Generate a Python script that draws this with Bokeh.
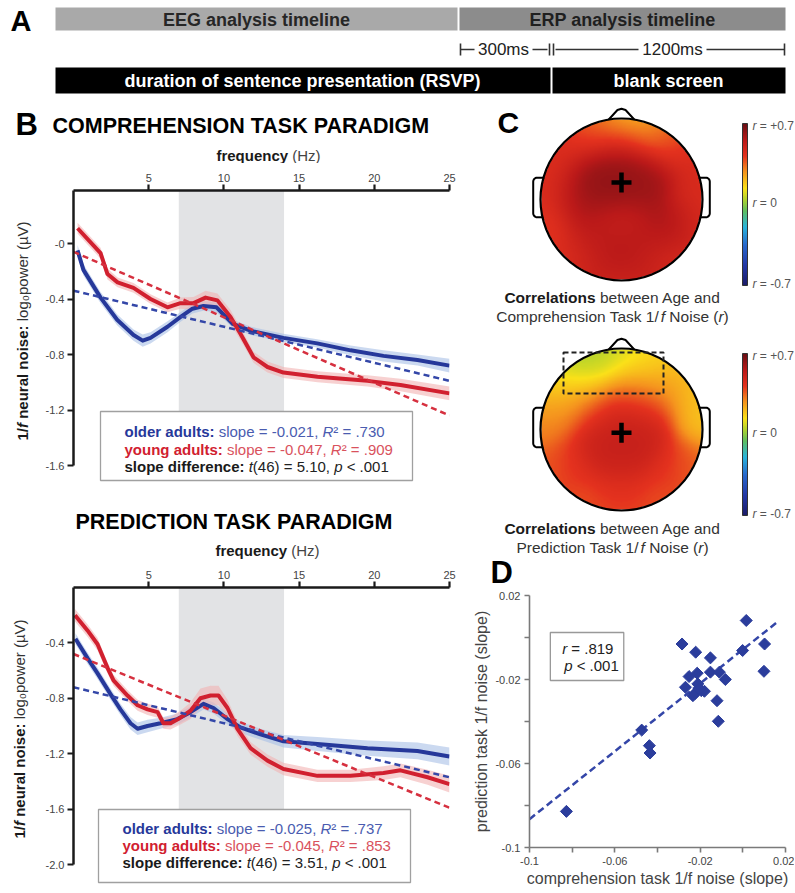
import numpy as np
from bokeh.plotting import figure
from bokeh.models import Range1d, Label, FixedTicker, LinearColorMapper
from bokeh.layouts import column, row
from bokeh.embed import file_html
from bokeh.resources import INLINE

FONT = "Liberation Sans"

# ------------------------------------------------------------------ data
# Panel A (schematic timeline)
timeline_top = ["EEG analysis timeline", "ERP analysis timeline"]
timeline_bottom = ["duration of sentence presentation (RSVP)", "blank screen"]
interval_labels = ["300ms", "1200ms"]

# Panel B - comprehension task (frequency in Hz, log power)
comp_old_freq = [0.27, 0.66, 1.8, 2.9, 3.99, 4.6, 5.12, 6.25, 7.1, 7.91, 8.64, 9.51, 10.6, 11.8, 13.96, 16.2, 18.42, 20.61, 22.87, 25.0]
comp_old_pow = [-0.05, -0.19, -0.39, -0.55, -0.66, -0.70, -0.68, -0.60, -0.53, -0.47, -0.45, -0.46, -0.58, -0.63, -0.68, -0.72, -0.77, -0.81, -0.84, -0.88]
comp_old_se = [0.04, 0.04, 0.04, 0.04, 0.04, 0.045, 0.04, 0.04, 0.035, 0.035, 0.035, 0.035, 0.03, 0.03, 0.03, 0.03, 0.035, 0.04, 0.04, 0.05]
comp_young_freq = [0.27, 1.8, 2.26, 2.93, 3.99, 5.12, 6.25, 7.11, 7.98, 8.78, 9.57, 10.44, 11.1, 11.97, 12.9, 13.96, 16.22, 19.55, 21.74, 25.0]
comp_young_pow = [0.11, -0.07, -0.22, -0.28, -0.32, -0.40, -0.46, -0.43, -0.43, -0.39, -0.41, -0.53, -0.65, -0.82, -0.89, -0.93, -0.96, -0.99, -1.02, -1.08]
comp_young_se = [0.04, 0.04, 0.04, 0.035, 0.035, 0.035, 0.035, 0.04, 0.045, 0.05, 0.05, 0.05, 0.045, 0.04, 0.04, 0.04, 0.04, 0.04, 0.045, 0.05]
comp_fit_old = [-0.34, -0.026]      # intercept, slope
comp_fit_young = [-0.06, -0.0472]

# Panel B - prediction task
pred_old_freq = [0.13, 0.93, 1.6, 2.46, 3.12, 3.79, 4.26, 4.92, 5.78, 6.91, 7.78, 8.64, 9.31, 10.24, 11.1, 12.43, 13.96, 16.22, 19.55, 22.87, 25.0]
pred_old_pow = [-0.37, -0.51, -0.62, -0.77, -0.88, -0.98, -1.02, -1.0, -0.98, -0.95, -0.9, -0.84, -0.87, -0.95, -1.01, -1.06, -1.11, -1.13, -1.16, -1.18, -1.22]
pred_old_se = [0.04, 0.04, 0.04, 0.04, 0.04, 0.045, 0.045, 0.045, 0.04, 0.04, 0.04, 0.04, 0.04, 0.04, 0.04, 0.04, 0.045, 0.05, 0.055, 0.06, 0.065]
pred_young_freq = [0.1, 0.93, 1.6, 2.26, 2.66, 3.59, 4.26, 4.92, 5.59, 5.98, 6.45, 7.11, 7.78, 8.44, 9.11, 9.64, 10.24, 10.9, 11.77, 12.9, 13.96, 16.22, 18.42, 20.61, 21.74, 23.54, 25.0]
pred_young_pow = [-0.2, -0.31, -0.41, -0.58, -0.67, -0.78, -0.85, -0.88, -0.9, -0.98, -0.98, -0.94, -0.89, -0.8, -0.78, -0.78, -0.87, -1.02, -1.16, -1.25, -1.31, -1.36, -1.36, -1.34, -1.32, -1.37, -1.42]
pred_young_se = [0.045, 0.045, 0.045, 0.04, 0.04, 0.04, 0.04, 0.04, 0.04, 0.04, 0.045, 0.05, 0.06, 0.07, 0.07, 0.07, 0.06, 0.05, 0.045, 0.045, 0.045, 0.045, 0.045, 0.05, 0.05, 0.055, 0.06]
pred_fit_old = [-0.72, -0.026]
pred_fit_young = [-0.48, -0.0444]

alpha_band = [7.0, 14.0]
freq_ticks = [5, 10, 15, 20, 25]
comp_y_ticks = [0, -0.4, -0.8, -1.2, -1.6]
pred_y_ticks = [-0.4, -0.8, -1.2, -1.6, -2.0]
comp_tick_text = ["-0", "-0.4", "-0.8", "-1.2", "-1.6"]
pred_tick_text = ["-0.4", "-0.8", "-1.2", "-1.6", "-2.0"]

comp_stats = [["older adults:", "-0.021", ".730"], ["young adults:", "-0.047", ".909"], ["5.10", ".001"]]
pred_stats = [["older adults:", "-0.025", ".737"], ["young adults:", "-0.045", ".853"], ["3.51", ".001"]]

# Panel C - correlation (r) at electrode sites, head coordinates (radius 1)
c1_x = [-0.3, 0.0, 0.3, -0.1, 0.25, -0.5, 0.0, -0.35, 0.6, 0.3, 0.0, -0.4, 0.4,
        -0.92, -0.9, 0.92, 0.88, -0.65, 0.6, 0.0, -0.75, 0.75, -0.4, 0.4, 0.0, 0.0, 0.35, -0.35, 0.6]
c1_y = [0.35, 0.4, 0.35, 0.15, 0.12, 0.0, -0.3, -0.4, -0.35, -0.5, -0.72, -0.75, -0.8,
        0.15, -0.3, 0.1, -0.35, -0.72, -0.75, -0.97, 0.6, 0.6, 0.8, 0.8, 0.75, 0.99, 0.93, 0.93, 0.78]
c1_r = [0.63, 0.64, 0.62, 0.63, 0.6, 0.6, 0.5, 0.56, 0.62, 0.55, 0.6, 0.52, 0.52,
        0.45, 0.42, 0.46, 0.45, 0.43, 0.44, 0.47, 0.45, 0.47, 0.45, 0.42, 0.5, 0.15, 0.15, 0.3, 0.35]
c2_x = [0.0, -0.3, 0.3, 0.0, 0.0, -0.3, 0.35, -0.6, 0.6, 0.0,
        -0.95, -0.85, -0.45, 0.0, 0.45, 0.85, 0.95, 0.85,
        -0.8, -0.5, -0.2, 0.15, 0.45, -0.4, 0.1, 0.5, -0.7]
c2_y = [-0.1, -0.2, -0.15, 0.2, -0.45, 0.15, 0.2, -0.45, -0.45, -0.8,
        0.05, -0.45, -0.88, -0.98, -0.88, -0.45, 0.1, 0.45,
        0.5, 0.78, 0.9, 0.9, 0.8, 0.45, 0.5, 0.5, 0.25]
c2_r = [0.53, 0.52, 0.52, 0.5, 0.5, 0.47, 0.47, 0.44, 0.44, 0.45,
        0.3, 0.36, 0.38, 0.38, 0.38, 0.34, 0.2, 0.2,
        0.15, 0.03, 0.05, 0.12, 0.17, 0.22, 0.3, 0.28, 0.3]
r_limits = [-0.7, 0.7]

# Panel D - slopes per participant
d_comp = [-0.0827, -0.0474, -0.0438, -0.0435, -0.0285, -0.0221, -0.0152, -0.0269, -0.0252, -0.0214, -0.0211, -0.0223, -0.0195, -0.0180, -0.0203, -0.0152, -0.0110, -0.0082, -0.0121, -0.0115, -0.0001, 0.0016, 0.0102, 0.0099, -0.0234]
d_pred = [-0.0828, -0.0441, -0.0515, -0.0550, -0.0031, -0.0070, -0.0097, -0.0237, -0.0186, -0.0170, -0.0221, -0.0266, -0.0253, -0.0256, -0.0245, -0.0165, -0.0165, -0.0200, -0.0301, -0.0399, -0.0062, 0.0081, -0.0031, -0.0161, -0.0277]
d_fit = [-0.0057, 0.808]          # intercept, slope
d_fit_span = [-0.1, 0.016]
d_ticks = [-0.1, -0.06, -0.02, 0.02]
d_minor = [-0.08, -0.04, 0.0]
d_stats = [".819", ".001"]

# ------------------------------------------------------------------ styles
BLUE = "#26389a"
BLUE_L = "#4a5cb0"
RED = "#d1202f"
RED_L = "#d9525d"
BLUE_BAND = "#a9c0e6"
RED_BAND = "#f2b3b3"
GRAY_BAND = "#e2e3e5"

# text metrics (Arial / Liberation Sans, per 1000 em)
AR = dict(zip("abcdefghijklmnopqrstuvwxyz", [556, 556, 500, 556, 556, 278, 556, 556, 222, 222, 500, 222, 833, 556, 556, 556, 556, 333, 500, 278, 556, 500, 722, 500, 500, 500]))
AR.update(dict(zip("ABCDEFGHIJKLMNOPQRSTUVWXYZ", [667, 667, 722, 722, 667, 611, 778, 722, 278, 500, 667, 556, 833, 722, 778, 667, 778, 722, 667, 611, 722, 667, 944, 667, 667, 611])))
AR.update({" ": 278, "(": 333, ")": 333, ".": 278, ",": 278, ":": 278, "/": 278, "=": 584, "<": 584, "+": 584, "-": 333, "\u00b2": 333, "\u2080": 556, "\u00b5": 556})
AB = dict(zip("abcdefghijklmnopqrstuvwxyz", [556, 611, 556, 611, 556, 333, 611, 611, 278, 278, 556, 278, 889, 611, 611, 611, 611, 389, 556, 333, 611, 556, 778, 556, 556, 500]))
AB.update(dict(zip("ABCDEFGHIJKLMNOPQRSTUVWXYZ", [722, 722, 722, 722, 667, 611, 778, 722, 278, 556, 722, 611, 833, 722, 778, 667, 778, 722, 667, 611, 722, 667, 944, 667, 667, 611])))
AB.update({" ": 278, "(": 333, ")": 333, ".": 278, ",": 278, ":": 333, "/": 278, "=": 584, "<": 584, "+": 584, "-": 333})


def tw(s, style, size):
    tbl = AB if "bold" in style else AR
    return sum(tbl.get(ch, 556) for ch in s) * size / 1000.0


def put_runs(p, conv, runs, x, y, size, anchor="left", vertical=False, baseline="middle"):
    """Place a line of mixed-style text; x, y are layout pixels of the reference."""
    widths = [tw(t, st, size) for t, st, c in runs]
    total = sum(widths)
    pos = {"left": 0.0, "center": -total / 2.0, "right": -total}[anchor]
    for (t, st, c), w in zip(runs, widths):
        lead = len(t) - len(t.lstrip())
        shift = tw(t[:lead], st, size)
        txt = t.strip()
        if txt:
            if vertical:
                px, py = x, y - (pos + shift)
            else:
                px, py = x + pos + shift, y
            X, Y = conv(px, py)
            p.add_layout(Label(x=X, y=Y, text=txt, text_font=FONT, text_font_size=f"{size}px",
                               text_font_style=st, text_color=c, text_align="left",
                               text_baseline=baseline, angle=(np.pi / 2 if vertical else 0.0)))
        pos += w


def plain_fig(w, h, xr, yr, **kw):
    p = figure(width=w, height=h, x_range=xr, y_range=yr, x_axis_location=None, y_axis_location=None,
               title=None, output_backend="svg", toolbar_location=None, **kw)
    p.outline_line_color = None
    p.grid.grid_line_color = None
    return p


flip = lambda x, y: (x, -y)

# ------------------------------------------------------------------ panel A
pA = plain_fig(794, 103, Range1d(0, 794), Range1d(-103, 0), min_border=0)
pA.quad(left=[55, 459], right=[457, 785], top=[-7, -7], bottom=[-30, -30], fill_color=["#a9a9a9", "#8c8c8c"], line_color=None)
pA.quad(left=[55, 552], right=[550, 785], top=[-67, -67], bottom=[-93, -93], fill_color="black", line_color=None)
pA.segment(x0=[460, 532, 555, 706], y0=[-49] * 4, x1=[474, 547, 638, 784], y1=[-49] * 4, line_color="#333333", line_width=1.6)
pA.segment(x0=[460, 549, 553, 784], y0=[-43] * 4, x1=[460, 549, 553, 784], y1=[-55] * 4, line_color="#333333", line_width=1.6)
put_runs(pA, flip, [("A", "bold", "black")], 10, 20, 29)
put_runs(pA, flip, [(timeline_top[0], "bold", "#262626")], 256, 19, 18, anchor="center")
put_runs(pA, flip, [(timeline_top[1], "bold", "#1f1f1f")], 622, 19, 18, anchor="center")
put_runs(pA, flip, [(interval_labels[0], "normal", "#222222")], 503, 49, 17, anchor="center")
put_runs(pA, flip, [(interval_labels[1], "normal", "#222222")], 672, 49, 17, anchor="center")
put_runs(pA, flip, [(timeline_bottom[0], "bold", "white")], 302, 80, 18, anchor="center")
put_runs(pA, flip, [(timeline_bottom[1], "bold", "white")], 668, 80, 18, anchor="center")


# ------------------------------------------------------------------ panel B
def header(top, bottom, title_runs, title_xy, freq_xy, letter):
    p = plain_fig(470, bottom - top, Range1d(0, 449), Range1d(-bottom, -top),
                  min_border_left=0, min_border_top=0, min_border_bottom=0, min_border_right=21)
    if letter:
        put_runs(p, flip, [(letter, "bold", "black")], 15, title_xy[1], 31)
        put_runs(p, flip, title_runs, title_xy[0], title_xy[1] + 1, 21.5)
    else:
        put_runs(p, flip, title_runs, title_xy[0], title_xy[1], 21.5, anchor="center")
    put_runs(p, flip, [("frequency", "bold", "#1a1a1a"), (" (Hz)", "normal", "#444444")], freq_xy[0], freq_xy[1], 15, anchor="center")
    return p


def ylab_strip(top, bottom, btop, bbot, xy):
    p = plain_fig(38, bottom - top, Range1d(0, 38), Range1d(-(bottom - bbot), -(top + btop)),
                  min_border_left=0, min_border_right=0, min_border_top=btop, min_border_bottom=bbot)
    put_runs(p, flip, [("1/", "bold", "#1a1a1a"), ("f", "bold italic", "#1a1a1a"), (" neural noise:", "bold", "#1a1a1a"),
                       (" log\u2080power (\u00b5V)", "normal", "#333333")], xy[0], xy[1], 15, vertical=True)
    return p


def chart(top, bottom, btop, bbot, y_zero_px, px_per_unit, ticks, tick_text, bound_low,
          old_f, old_p, old_se, young_f, young_p, young_se, fit_old, fit_young,
          box, stats, legend_x, legend_y):
    height = bottom - top
    frame_top_ref = top + btop
    frame_h = height - btop - bbot
    ymax = (y_zero_px - frame_top_ref) / px_per_unit
    ymin = ymax - frame_h / px_per_unit
    p = figure(width=432, height=height, x_range=Range1d(0, 25), y_range=Range1d(ymin, ymax),
               x_axis_location="above", title=None, min_border_left=35, min_border_right=21,
               min_border_top=btop, min_border_bottom=bbot,
               output_backend="svg", toolbar_location=None)
    p.outline_line_color = None
    p.grid.grid_line_color = None
    conv = lambda x, y: ((x - 73) / 15.04, (y_zero_px - y) / px_per_unit)

    p.quad(left=[alpha_band[0]], right=[alpha_band[1]], bottom=[bound_low], top=[ymax], fill_color=GRAY_BAND, line_color=None)
    for f, pw, se, band in [(old_f, old_p, old_se, BLUE_BAND), (young_f, young_p, young_se, RED_BAND)]:
        lo = [a - b for a, b in zip(pw, se)]
        hi = [a + b for a, b in zip(pw, se)]
        p.varea(x=f, y1=lo, y2=hi, fill_color=band, fill_alpha=0.6)
    p.line(old_f, old_p, line_color=BLUE, line_width=4, line_join="round")
    p.line(young_f, young_p, line_color=RED, line_width=4, line_join="round")
    fx = [0, 25]
    p.line(fx, [fit_old[0] + fit_old[1] * v for v in fx], line_color="#3447a8", line_width=2.5, line_dash="6 4")
    p.line(fx, [fit_young[0] + fit_young[1] * v for v in fx], line_color="#d6303f", line_width=2.5, line_dash="6 4")

    bx0, bx1, by0, by1 = box
    (l, b_), (r_, t_) = conv(bx0, by1), conv(bx1, by0)
    p.quad(left=[l], right=[r_], bottom=[b_], top=[t_], fill_color="white", line_color="#a0a0a0", line_width=1.3)
    s1, s2, s3 = stats
    put_runs(p, conv, [(s1[0], "bold", BLUE), (" slope = " + s1[1] + ", ", "normal", BLUE_L), ("R", "italic", BLUE_L), ("\u00b2 = " + s1[2], "normal", BLUE_L)], legend_x, legend_y[0], 15)
    put_runs(p, conv, [(s2[0], "bold", RED), (" slope = " + s2[1] + ", ", "normal", RED_L), ("R", "italic", RED_L), ("\u00b2 = " + s2[2], "normal", RED_L)], legend_x, legend_y[1], 15)
    put_runs(p, conv, [("slope difference:", "bold", "#1a1a1a"), (" ", "normal", "#222"), ("t", "italic", "#222"), ("(46) = " + s3[0] + ", ", "normal", "#222"), ("p", "italic", "#222"), (" < " + s3[1], "normal", "#222")], legend_x, legend_y[2], 15)

    xa = p.xaxis[0]
    xa.ticker = FixedTicker(ticks=freq_ticks)
    ya = p.yaxis[0]
    ya.ticker = FixedTicker(ticks=ticks)
    ya.bounds = (bound_low, ymax)
    ya.major_label_overrides = dict(zip(ticks, tick_text))
    for ax in (xa, ya):
        ax.axis_line_color = "#1a1a1a"
        ax.axis_line_width = 2.5
        ax.major_tick_line_color = "#1a1a1a"
        ax.major_tick_line_width = 2.2
        ax.major_tick_out = 6
        ax.major_tick_in = 0
        ax.minor_tick_line_color = None
        ax.major_label_text_font = FONT
        ax.major_label_text_font_size = "11px"
        ax.major_label_text_color = "#444444"
        ax.major_label_standoff = 3
    return p


hB1 = header(103, 163, [("COMPREHENSION TASK PARADIGM", "bold", "black")], (52, 124), (268, 155), "B")
yB1 = ylab_strip(163, 497, 27, 9, (22, 440))
cB1 = chart(163, 497, 27, 9, 243.0, 138.75, comp_y_ticks, comp_tick_text, -1.6,
            comp_old_freq, comp_old_pow, comp_old_se, comp_young_freq, comp_young_pow, comp_young_se,
            comp_fit_old, comp_fit_young, (100, 412, 411, 480), comp_stats, 124, [431, 449, 466])
hB2 = header(497, 560, [("PREDICTION TASK PARADIGM", "bold", "black")], (235, 521), (267, 550), None)
yB2 = ylab_strip(560, 891, 27, 6, (19, 838))
cB2 = chart(560, 891, 27, 6, 587.0, 138.5, pred_y_ticks, pred_tick_text, -2.0,
            pred_old_freq, pred_old_pow, pred_old_se, pred_young_freq, pred_young_pow, pred_young_se,
            pred_fit_old, pred_fit_young, (98, 410, 809, 882), pred_stats, 122, [828, 845, 862])

# ------------------------------------------------------------------ panel C
anchors = [(0.0, (28, 28, 105)), (0.12, (35, 55, 165)), (0.25, (40, 105, 205)), (0.36, (40, 180, 220)),
           (0.46, (95, 190, 95)), (0.53, (175, 210, 45)), (0.6, (250, 225, 25)), (0.7, (245, 150, 30)),
           (0.8, (228, 50, 30)), (0.9, (185, 25, 25)), (1.0, (105, 15, 20))]
af = np.array([a[0] for a in anchors])
ac = np.array([a[1] for a in anchors], dtype=float)
palette = []
for t in np.linspace(0, 1, 256):
    rgb = [int(round(np.interp(t, af, ac[:, k]))) for k in range(3)]
    palette.append("#%02x%02x%02x" % tuple(rgb))
mapper = LinearColorMapper(palette=palette, low=r_limits[0], high=r_limits[1], nan_color=(0, 0, 0, 0))

HX, HY1, S = 621.0, 199.0, 81.0
cconv = lambda x, y: ((x - HX) / S, (HY1 - y) / S)
C_TOP, C_BOT = 103, 590
pC = plain_fig(324, C_BOT - C_TOP, Range1d(cconv(470, 0)[0], cconv(794, 0)[0]), Range1d(cconv(0, C_BOT)[1], cconv(0, C_TOP)[1]), min_border=0)


def topo(ex, ey, ev, n=220, sigma=0.22):
    g = np.linspace(-1, 1, n)
    X, Y = np.meshgrid(g, g)
    num = np.zeros_like(X)
    den = np.zeros_like(X)
    for x, y, v in zip(ex, ey, ev):
        w = np.exp(-((X - x) ** 2 + (Y - y) ** 2) / (2 * sigma ** 2))
        num += w * v
        den += w
    Z = num / den
    Z[X ** 2 + Y ** 2 > 1.0] = np.nan
    return Z


def rounded_rect(x0, x1, y0, y1, r):
    xs, ys = [], []
    for cx_, cy_, a0 in [(x1 - r, y1 - r, 0), (x0 + r, y1 - r, 90), (x0 + r, y0 + r, 180), (x1 - r, y0 + r, 270)]:
        for a in np.linspace(a0, a0 + 90, 8):
            xs.append(cx_ + r * np.cos(np.radians(a)))
            ys.append(cy_ + r * np.sin(np.radians(a)))
    return xs, ys


head_centers = [0.0, cconv(0, 429)[1]]
for i, (hy, ex, ey, ev) in enumerate([(head_centers[0], c1_x, c1_y, c1_r), (head_centers[1], c2_x, c2_y, c2_r)]):
    for side in (-1, 1):
        xs, ys = rounded_rect(0.93, 1.09, -0.22, 0.27, 0.05)
        pC.patch([side * v for v in xs], [hy + v for v in ys], fill_color="white", line_color="black", line_width=2)
    pC.line([-0.16, -0.05, 0.0, 0.05, 0.16], [hy + 0.985, hy + 1.105, hy + 1.12, hy + 1.105, hy + 0.985], line_color="black", line_width=2)
    pC.image(image=[topo(ex, ey, ev)], x=-1, y=hy - 1, dw=2, dh=2, color_mapper=mapper)
    pC.circle(x=[0], y=[hy], radius=1.0, fill_color=None, line_color="black", line_width=2.2)
    cross_y = hy + (0.21 if i == 0 else -0.04)
    pC.scatter(x=[0], y=[cross_y], marker="cross", size=20, line_color="black", line_width=4.5)

rx0, ry0 = cconv(563, 393)
rx1, ry1 = cconv(663, 352)
pC.quad(left=[rx0], right=[rx1], bottom=[ry0], top=[ry1], fill_color=None, line_color="#222222", line_width=2, line_dash="5 3")

grad = np.linspace(r_limits[0], r_limits[1], 256)[:, None]
for top_ref in (123, 353):
    x0, ytop = cconv(742, top_ref)
    x1, ybot = cconv(747, top_ref + 162)
    pC.image(image=[grad], x=x0, y=ybot, dw=x1 - x0, dh=ytop - ybot, color_mapper=mapper)
    pC.quad(left=[x0], right=[x1], bottom=[ybot], top=[ytop], fill_color=None, line_color="#333333", line_width=1)
    for lab, dy in [(" = +0.7", 2), (" = 0", 79), (" = -0.7", 160)]:
        put_runs(pC, cconv, [("r", "italic", "#555555"), (lab, "normal", "#555555")], 752, top_ref + dy, 12)

put_runs(pC, cconv, [("C", "bold", "black")], 497, 122, 30)
put_runs(pC, cconv, [("D", "bold", "black")], 490, 589, 31, baseline="bottom")
for y1_, second in [(297, "Comprehension Task 1/"), (528, "Prediction Task 1/")]:
    put_runs(pC, cconv, [("Correlations", "bold", "#1a1a1a"), (" between Age and", "normal", "#333333")], 612, y1_, 15.5, anchor="center")
    put_runs(pC, cconv, [(second, "normal", "#333333"), ("f", "italic", "#333333"), (" Noise (", "normal", "#333333"), ("r", "italic", "#333333"), (")", "normal", "#333333")], 612, y1_ + 19, 15.5, anchor="center")

# ------------------------------------------------------------------ panel D
D_TOP, D_BOT = 590, 891
pD = figure(width=324, height=D_BOT - D_TOP, x_range=Range1d(-0.1, 0.02), y_range=Range1d(-0.1, 0.02),
            title=None, min_border_left=57, min_border_right=9, min_border_top=595 - D_TOP, min_border_bottom=D_BOT - 847,
            output_backend="svg", toolbar_location=None)
pD.outline_line_color = None
pD.grid.grid_line_color = None
dconv = lambda x, y: (-0.1 + (x - 527) / (785 - 527) * 0.12, -0.1 + (847 - y) / (847 - 595) * 0.12)

pD.line(d_fit_span, [d_fit[0] + d_fit[1] * v for v in d_fit_span], line_color="#3446a8", line_width=2.5, line_dash="7 4")
pD.scatter(d_comp, d_pred, marker="square", angle=np.pi / 4, size=8.5, fill_color="#2b3d9c", line_color="#2b3d9c")

bl, bb = dconv(548, 680)
br, bt = dconv(622, 632)
pD.quad(left=[bl], right=[br], bottom=[bb], top=[bt], fill_color="white", line_color="#999999", line_width=1.3)
put_runs(pD, dconv, [("r", "italic", "#222222"), (" = " + d_stats[0], "normal", "#222222")], 560, 648, 15)
put_runs(pD, dconv, [("p", "italic", "#222222"), (" < " + d_stats[1], "normal", "#222222")], 562, 665, 15)

labels_d = {v: ("%g" % v) for v in d_ticks}
for ax in (pD.xaxis[0], pD.yaxis[0]):
    ax.ticker = FixedTicker(ticks=d_ticks, minor_ticks=d_minor)
    ax.major_label_overrides = labels_d
    ax.axis_line_color = "#7a7a7a"
    ax.axis_line_width = 1.6
    ax.major_tick_line_color = "#7a7a7a"
    ax.major_tick_line_width = 1.6
    ax.minor_tick_line_color = "#7a7a7a"
    ax.minor_tick_line_width = 1.6
    ax.major_tick_out = 5
    ax.major_tick_in = 0
    ax.minor_tick_out = 5
    ax.minor_tick_in = 0
    ax.major_label_text_font = FONT
    ax.major_label_text_font_size = "11px"
    ax.major_label_text_color = "#444444"
    ax.major_label_standoff = 4
    ax.axis_label_text_font = FONT
    ax.axis_label_text_font_size = "16px"
    ax.axis_label_text_font_style = "normal"
    ax.axis_label_text_color = "#444444"
    ax.axis_label_standoff = 2
pD.xaxis[0].axis_label = "comprehension task 1/f noise (slope)"
pD.yaxis[0].axis_label = "prediction task 1/f noise (slope)"

# ------------------------------------------------------------------ layout
left = column(hB1, row(yB1, cB1), hB2, row(yB2, cB2))
right = column(pC, row(pD))
layout = column(pA, row(left, right))
open("out.html", "w").write(file_html(layout, INLINE))
